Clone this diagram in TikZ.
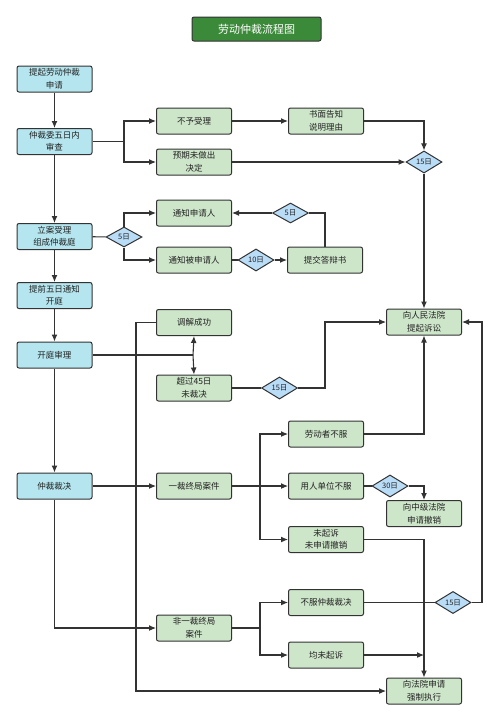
\documentclass[tikz,border=0pt]{standalone}
\usepackage{fontspec}
\newfontfamily\cjk{Noto Sans CJK SC}
\usetikzlibrary{shapes.geometric,arrows.meta}
\definecolor{cyanbox}{HTML}{B5E6EF}
\definecolor{greenbox}{HTML}{CDE6C9}
\definecolor{diabox}{HTML}{B9DCF7}
\definecolor{titlegreen}{HTML}{3B8A3A}
\definecolor{linegray}{HTML}{333333}
\definecolor{txt}{HTML}{222222}
\tikzset{
  base/.style={draw=linegray, line width=1pt, rounded corners=2pt, minimum width=75pt, minimum height=26pt, inner sep=1pt, align=center, text=txt, font=\cjk\fontsize{8.5}{12.5}\selectfont},
  cbox/.style={base, fill=cyanbox},
  gbox/.style={base, fill=greenbox},
  dia/.style={diamond, draw=linegray, line width=1pt, fill=diabox, minimum width=36pt, minimum height=20pt, inner sep=0pt, text=txt, font=\cjk\fontsize{7.5}{9}\selectfont},
  conn/.style={draw=linegray, line width=1.1pt},
  arr/.style={conn, -{Latex[length=7pt,width=6pt]}},
}
\begin{document}
\begin{tikzpicture}[x=1pt,y=-1pt]
\useasboundingbox (0,0) rectangle (499,721);
\fill[white] (0,0) rectangle (499,721);
% title
\node[draw=linegray, line width=1pt, rounded corners=2pt, fill=titlegreen, text=white, minimum width=129pt, minimum height=24pt, font=\cjk\fontsize{11}{13}\selectfont] (title) at (256.5,29) {劳动仲裁流程图};
% left column
\node[cbox] (a1) at (54.5,79) {提起劳动仲裁\\申请};
\node[cbox] (a2) at (54.5,141.5) {仲裁委五日内\\审查};
\node[cbox] (a3) at (54.5,236.5) {立案受理\\组成仲裁庭};
\node[cbox] (a4) at (54.5,295.5) {提前五日通知\\开庭};
\node[cbox] (a5) at (54.5,355) {开庭审理};
\node[cbox] (a6) at (54.5,486) {仲裁裁决};
% second column
\node[gbox] (b1) at (194,121) {不予受理};
\node[gbox] (b2) at (194,162) {预期未做出\\决定};
\node[gbox] (b3) at (194,213) {通知申请人};
\node[gbox] (b4) at (194,260) {通知被申请人};
\node[gbox] (b5) at (194,322.5) {调解成功};
\node[gbox] (b6) at (194,388) {超过45日\\未裁决};
\node[gbox] (b7) at (194,486) {一裁终局案件};
\node[gbox] (b8) at (194,628) {非一裁终局\\案件};
% third column
\node[gbox] (c1) at (326,121) {书面告知\\说明理由};
\node[gbox] (c2) at (325,260) {提交答辩书};
\node[gbox] (c3) at (326,434) {劳动者不服};
\node[gbox] (c4) at (326,486) {用人单位不服};
\node[gbox] (c5) at (326,539.5) {未起诉\\未申请撤销};
\node[gbox] (c6) at (326,602.5) {不服仲裁裁决};
\node[gbox] (c7) at (326,655) {均未起诉};
% fourth column
\node[gbox] (d1) at (424,322) {向人民法院\\提起诉讼};
\node[gbox] (d2) at (424,513.5) {向中级法院\\申请撤销};
\node[gbox] (d3) at (424,691) {向法院申请\\强制执行};
% diamonds
\node[dia] (q1) at (424,162) {15日};
\node[dia] (q2) at (124,237) {5日};
\node[dia] (q4) at (290.5,213) {5日};
\node[dia] (q3) at (256,260) {10日};
\node[dia] (q5) at (279.5,388) {15日};
\node[dia] (q6) at (390,486) {30日};
\node[dia] (q7) at (453,602.5) {15日};
% junction coordinates
\coordinate (j1) at (124,141.5);
\coordinate (j2) at (193,355);
\coordinate (k1) at (136,322.5);
\coordinate (k2) at (325,388);
\coordinate (j3) at (260,486);
\coordinate (j4) at (260,628);
\coordinate (k3) at (482,602.5);
% main column
\draw[arr] (a1) -- (a2);
\draw[arr] (a2) -- (a3);
\draw[arr] (a3) -- (a4);
\draw[arr] (a4) -- (a5);
\draw[arr] (a5) -- (a6);
% review
\draw[conn] (a2.east) -- (j1);
\draw[arr] (j1) |- (b1.west);
\draw[arr] (j1) |- (b2.west);
\draw[arr] (b1) -- (c1);
\draw[arr] (c1.east) -| (q1.north);
\draw[arr] (b2) -- (q1);
\draw[arr] (q1) -- (d1);
% accept
\draw[conn] (a3) -- (q2);
\draw[arr] (q2.north) |- (b3.west);
\draw[arr] (q2.south) |- (b4.west);
\draw[conn] (b4) -- (q3);
\draw[arr] (q3) -- (c2);
\draw[conn] (c2.north) |- (q4.east);
\draw[arr] (q4) -- (b3);
% hearing
\draw[conn] (a5.east) -- (j2);
\draw[arr] (j2) -- (b5.south);
\draw[arr] (j2) -- (b6.north);
\draw[arr] (b5.west) -- (k1) |- (d3.west);
\draw[conn] (b6) -- (q5);
\draw[arr] (q5.east) -- (k2) |- (d1.west);
% award
\draw[arr] (a6) -- (b7);
\draw[conn] (b7.east) -- (j3);
\draw[arr] (j3) |- (c3.west);
\draw[arr] (j3) -- (c4.west);
\draw[arr] (j3) |- (c5.west);
\draw[arr] (c3.east) -| (d1.south);
\draw[conn] (c4) -- (q6);
\draw[arr] (q6.east) -| (d2.north);
\draw[arr] (c5.east) -| (d3.north);
\draw[arr] (a6.south) |- (b8.west);
\draw[conn] (b8.east) -- (j4);
\draw[arr] (j4) |- (c6.west);
\draw[arr] (j4) |- (c7.west);
\draw[conn] (c6) -- (q7);
\draw[arr] (q7.east) -- (k3) |- (d1.east);
\draw[arr] (c7.east) -- (c7.east -| d3.north);
\end{tikzpicture}
\end{document}
